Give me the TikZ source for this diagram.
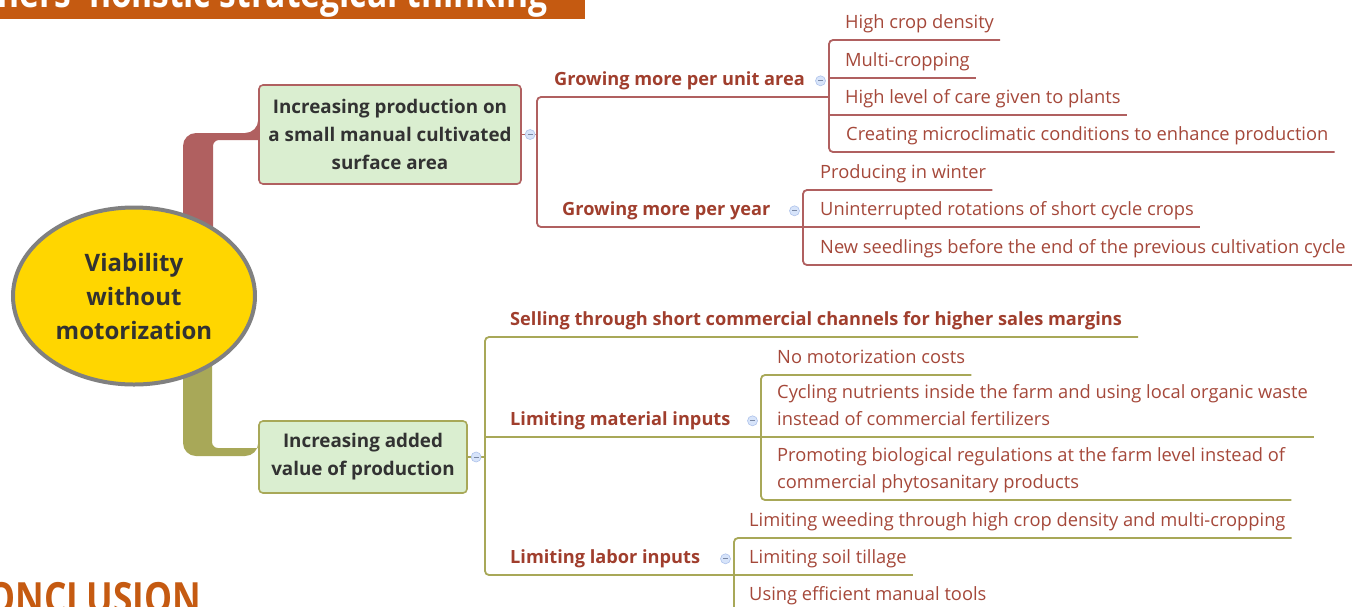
\documentclass[tikz,border=0pt]{standalone}
\usepackage{fontspec}
\setmainfont{Open Sans}
\newfontfamily\condfont[FakeStretch=0.82]{Open Sans}
\usetikzlibrary{positioning, shapes.geometric, backgrounds}

\definecolor{branchred}{RGB}{176,96,96}
\definecolor{brancholive}{RGB}{168,168,88}
\definecolor{rootgold}{RGB}{255,214,0}
\definecolor{rootgray}{RGB}{128,128,128}
\definecolor{boxgreen}{RGB}{218,238,208}
\definecolor{topicred}{RGB}{160,62,45}
\definecolor{leafred}{RGB}{165,72,58}
\definecolor{darktext}{RGB}{50,50,50}
\definecolor{iconblue}{RGB}{175,195,235}
\definecolor{iconfill}{RGB}{215,228,250}
\definecolor{titleorange}{RGB}{197,90,17}

\begin{document}
\begin{tikzpicture}[x=1pt, y=-1pt]
				% ----- Styles -----
				\tikzset{
					root/.style={
						ellipse, draw=rootgray, line width=4pt, fill=rootgold,
						minimum width=242pt, minimum height=177pt,
						align=center, text=darktext, font=\fontsize{24}{34}\selectfont\bfseries
					},
					mainbox/.style={
						rectangle, rounded corners=4pt, line width=1.6pt, fill=boxgreen,
						align=center, text=darktext, font=\fontsize{18.8}{28}\selectfont\bfseries
					},
					topic/.style={anchor=south west, inner sep=0pt, text depth=11pt, text=topicred, font=\fontsize{18.2}{22}\selectfont\bfseries},
					leaf/.style={anchor=south west, inner sep=0pt, text depth=11pt, align=left, text=leafred, font=\fontsize{18.3}{27}\selectfont},
					collapse/.style={
						circle, draw=iconblue, fill=iconfill, line width=0.6pt, minimum size=10pt, inner sep=0pt,
						path picture={\draw[iconblue!70!black, line width=0.7pt] ([xshift=2.5pt]path picture bounding box.west) -- ([xshift=-2.5pt]path picture bounding box.east);}
					},
					redline/.style={draw=branchred, line width=1.8pt, rounded corners=4pt},
					oliveline/.style={draw=brancholive, line width=1.8pt, rounded corners=4pt}
				}
				\useasboundingbox (0,0) rectangle (1363,606);
				\clip (0,0) rectangle (1363,606);
				% ----- Nodes -----
				\fill[titleorange] (0,0) rectangle (585,19);
				\node (title) [anchor=base east, inner sep=0pt, text=white, font=\condfont\fontsize{41}{41}\selectfont\bfseries] at (548,7) {ners' holistic strategical thinking};
				\node (concl) [anchor=base east, inner sep=0pt, text=titleorange, font=\condfont\fontsize{43}{43}\selectfont\bfseries] at (201,613) {CONCLUSION};
				
				\node (root) [root] at (134,296) {Viability\\without\\motorization};
				
				\node (inc) [mainbox, draw=branchred, minimum width=262pt, minimum height=99pt] at (390,134.5) {Increasing production on\\a small manual cultivated\\surface area};
				\node (val) [mainbox, draw=brancholive, minimum width=208pt, minimum height=72pt] at (363,457) {Increasing added\\value of production};
				\node (incicon) [collapse, right=3pt of inc] {};
				\node (valicon) [collapse, right=3pt of val] {};
				
				% bracket columns
				\coordinate (b0) at (537,0);
				\coordinate (b1) at (829,0);
				\coordinate (b2) at (803,0);
				\coordinate (bv) at (485,0);
				\coordinate (b3) at (761,0);
				\coordinate (b4) at (734,0);
				
				\node (gpa)  [topic] at (554,97)  {Growing more per unit area};
				\node (gpy)  [topic] at (562,227) {Growing more per year};
				\node (sell) [topic] at (510,337) {Selling through short commercial channels for higher sales margins};
				\node (mat)  [topic] at (510,437) {Limiting material inputs};
				\node (lab)  [topic] at (510,575) {Limiting labor inputs};
				
				\node (gpaicon) [collapse, xshift=-8.5pt, yshift=5pt] at (b1 |- gpa.base) {};
				\node (gpyicon) [collapse, xshift=-8.5pt, yshift=5pt] at (b2 |- gpy.base) {};
				\node (maticon) [collapse, xshift=-8.5pt, yshift=5pt] at (b3 |- mat.base) {};
				\node (labicon) [collapse, xshift=-8.5pt, yshift=5pt] at (b4 |- lab.base) {};
				
				\node (hcd) [leaf] at (845,40)  {High crop density};
				\node (mcr) [leaf] at (845,78)  {Multi-cropping};
				\node (hlc) [leaf] at (845,115) {High level of care given to plants};
				\node (cmc) [leaf] at (846,152) {Creating microclimatic conditions to enhance production};
				
				\node (piw) [leaf] at (820,190) {Producing in winter};
				\node (urs) [leaf] at (820,227) {Uninterrupted rotations of short cycle crops};
				\node (nsb) [leaf] at (820,265) {New seedlings before the end of the previous cultivation cycle};
				
				\node (nmc) [leaf] at (777,375) {No motorization costs};
				\node (cyc) [leaf] at (777,437) {Cycling nutrients inside the farm and using local organic waste\\instead of commercial fertilizers};
				\node (pro) [leaf] at (777,500) {Promoting biological regulations at the farm level instead of\\commercial phytosanitary products};
				
				\node (lwd) [leaf] at (749,538) {Limiting weeding through high crop density and multi-cropping};
				\node (lst) [leaf] at (749,575) {Limiting soil tillage};
				\node (uem) [leaf] at (749,612) {Using efficient manual tools};
				
				% ----- Connectors -----
				\begin{scope}[on background layer]
					\fill[white] (0,0) rectangle (1363,606);
					% thick root branches
					\fill[branchred] ([yshift=1.5pt]inc.west) -- ([yshift=-5.5pt]inc.west) -- ([yshift=-5.5pt, xshift=-20pt]inc.west) [rounded corners=6pt] -| (213,245) [sharp corners] -- (183,245) [rounded corners=13pt] |- ([yshift=1.5pt]inc.west) [sharp corners] -- cycle;
					\fill[brancholive] ([yshift=1pt]val.west) -- ([yshift=9pt]val.west) -- ([yshift=9pt, xshift=-20pt]val.west) [rounded corners=6pt] -| (212,345) [sharp corners] -- (183,345) [rounded corners=13pt] |- ([yshift=1pt]val.west) [sharp corners] -- cycle;
					
					% upper branch
					\draw[redline] (inc.east) -- (b0 |- inc.east);
					\draw[redline] (b1 |- gpa.south) -- (b0 |- gpa.south) -- (b0 |- gpy.south) -- (b2 |- gpy.south);
					\draw[redline] ([xshift=6pt]hcd.south east) -- (b1 |- hcd.south) -- (b1 |- cmc.south) -- ([xshift=6pt]cmc.south east);
					\foreach \n in {mcr, hlc}{
						\draw[redline] (b1 |- \n.south) -- ([xshift=6pt]\n.south east);
					}
					\draw[redline] ([xshift=6pt]piw.south east) -- (b2 |- piw.south) -- (b2 |- nsb.south) -- ([xshift=6pt]nsb.south east);
					\draw[redline] (b2 |- urs.south) -- ([xshift=6pt]urs.south east);
					
					% lower branch
					\draw[oliveline] (val.east) -- (bv |- val.east);
					\draw[oliveline] ([xshift=16pt]sell.south east) -- (bv |- sell.south) -- (bv |- lab.south) -- (b4 |- lab.south);
					\draw[oliveline] (bv |- mat.south) -- (b3 |- mat.south);
					\draw[oliveline] ([xshift=6pt]nmc.south east) -- (b3 |- nmc.south) -- (b3 |- pro.south) -- ([xshift=6pt]pro.south east);
					\draw[oliveline] (b3 |- cyc.south) -- ([xshift=6pt]cyc.south east);
					\draw[oliveline] ([xshift=6pt]lwd.south east) -- (b4 |- lwd.south) -- (b4 |- uem.south) -- ([xshift=6pt]uem.south east);
					\draw[oliveline] (b4 |- lst.south) -- ([xshift=6pt]lst.south east);
				\end{scope}
			\end{tikzpicture}
\end{document}
